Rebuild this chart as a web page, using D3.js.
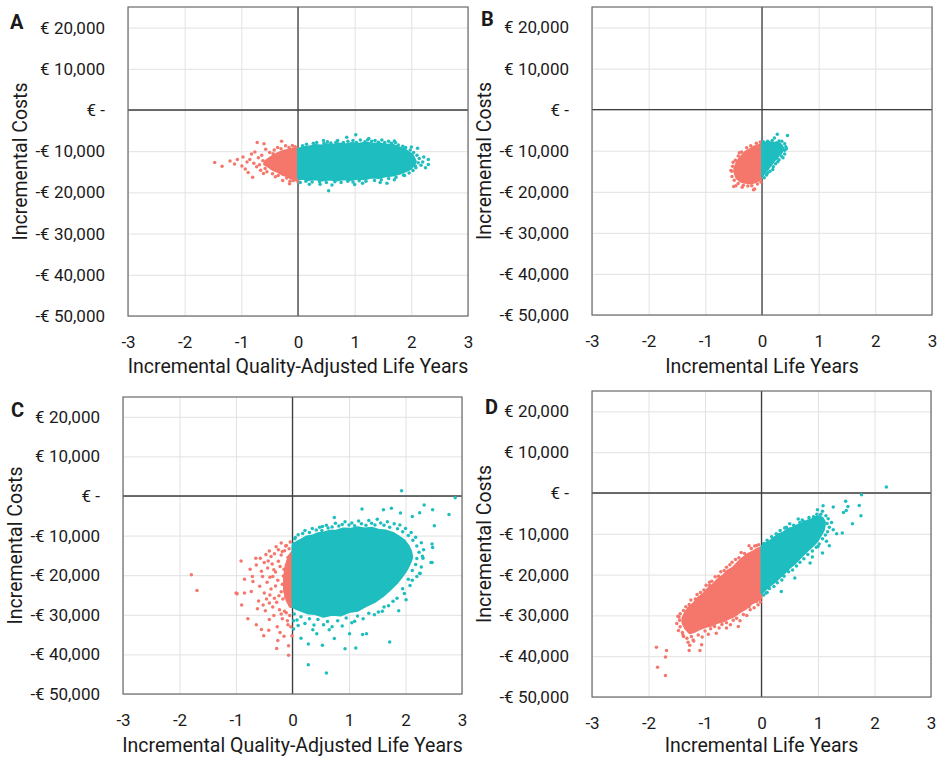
<!DOCTYPE html>
<html>
<head>
<meta charset="utf-8">
<script src="https://cdn.jsdelivr.net/npm/d3@7"></script>
<style>
  body { margin: 0; background: #fff; }
  text { font-family: Roboto, "DejaVu Sans", sans-serif; fill: #1a1a1a; }
</style>
</head>
<body>
<div id="chart"></div>
<script>
"use strict";

// == DATA ==
var costTicks = [20000, 10000, 0, -10000, -20000, -30000, -40000, -50000];
var effectTicks = [-3, -2, -1, 0, 1, 2, 3];
var panelLetters = ["A", "B", "C", "D"];
var xTitles = ["Incremental Quality-Adjusted Life Years", "Incremental Life Years",
               "Incremental Quality-Adjusted Life Years", "Incremental Life Years"];
var yTitle = "Incremental Costs";

// dense part of each cloud (outline) and the loose points around it: [effect, cost]
var aRedCore = [[-0.58,-12400],[-0.5,-11600],[-0.42,-10900],[-0.35,-10400],[-0.25,-9900],[-0.15,-9600],[-0.08,-9300],[0,-9200],[0,-16800],[-0.06,-16500],[-0.12,-16700],[-0.2,-16000],[-0.28,-15700],[-0.36,-15000],[-0.45,-14500],[-0.52,-13800],[-0.6,-13200]];
var aRedPts = [[-1.47,-12750],[-1.34,-13650],[-1.2,-12400],[-1.07,-12000],[-0.97,-11400],[-0.99,-13600],[-0.9,-12600],[-0.82,-10700],[-0.8,-16300],[-0.73,-13800],[-0.72,-7900],[-0.6,-8200],[-0.64,-11000],[-0.61,-15400],[-0.55,-15000],[-0.29,-7560],[-0.27,-17100],[-0.15,-17900],[0,-17500],[-0.44,-10600],[-0.49,-13000],
  [-0.85,-12000],[-0.78,-12900],[-0.7,-11600],[-0.68,-13300],[-0.62,-12300],[-0.58,-14200],[-0.66,-14600],[-0.5,-10300],[-0.42,-9700],[-0.36,-9100],[-0.22,-8700],[-0.1,-8600],[-0.05,-8900],[-0.35,-15900],[-0.2,-16500],[-0.08,-17100],[-0.45,-15500],[-0.93,-14300],[-0.76,-10200],[-1.12,-13100],[-0.88,-15200],[-0.57,-9500],[-0.4,-16200],[-0.3,-9400],[-0.16,-9100],[-0.03,-16900],[-0.14,-17300]];
var aTealCore = [[0,-9400],[0.12,-9000],[0.22,-8800],[0.3,-8500],[0.42,-8600],[0.5,-8300],[0.62,-8400],[0.72,-8100],[0.85,-8300],[0.95,-8000],[1.08,-8200],[1.2,-7900],[1.32,-8200],[1.45,-8100],[1.55,-8400],[1.68,-8500],[1.78,-9000],[1.88,-9500],[1.95,-10200],[2.02,-10800],[2.05,-11600],[2.08,-12500],[2.05,-13300],[2.0,-14200],[1.9,-14900],[1.8,-15400],[1.68,-15900],[1.55,-16100],[1.42,-16500],[1.3,-16400],[1.18,-16800],[1.05,-16700],[0.92,-17000],[0.8,-16800],[0.68,-17100],[0.55,-16900],[0.42,-17100],[0.3,-16800],[0.18,-17000],[0.08,-16700],[0,-16900]];
var aTealPts = [[0.86,-6600],[1.02,-6000],[0.54,-19600],[0.39,-18000],[1.14,-17800],[1.57,-17800],[2.11,-9300],[2.2,-12600],[2.3,-12000],[2.3,-13200],[1.88,-15900],[2.07,-13600],
  [0.08,-8700],[0.15,-8300],[0.27,-8100],[0.33,-7900],[0.46,-8100],[0.52,-7700],[0.58,-8000],[0.67,-7800],[0.7,-7400],[0.8,-7900],[0.88,-7600],[0.97,-7400],[1.03,-7900],[1.1,-7300],[1.18,-7700],[1.23,-7200],[1.3,-7600],[1.36,-7400],[1.42,-7800],[1.48,-7300],[1.53,-7900],[1.6,-7600],[1.65,-8100],[1.72,-7900],[1.77,-8500],[1.85,-8800],[1.9,-9100],[1.98,-9700],[2.04,-10300],[2.1,-11000],[2.14,-11800],[2.12,-12800],[2.17,-13400],[2.08,-14000],[2.03,-14700],[1.96,-15300],[1.86,-15800],[1.73,-16300],[1.6,-16600],[1.47,-16900],[1.35,-17100],[1.2,-17300],[1.08,-17200],[0.97,-17500],[0.88,-17300],[0.76,-17600],[0.65,-17400],[0.5,-17600],[0.38,-17400],[0.25,-17500],[0.14,-17300],[0.04,-17600],
  [0.6,-18200],[1.0,-18100],[1.45,-17600],[0.2,-18000],[1.7,-16900],[0.45,-7400],[1.25,-6900],[1.7,-7500],[2.0,-9000],[2.22,-11400],[2.25,-14000]];

var bRedCore = [[0,-8300],[-0.08,-8700],[-0.15,-9000],[-0.22,-9700],[-0.3,-10300],[-0.36,-11200],[-0.42,-12200],[-0.46,-13300],[-0.49,-14400],[-0.48,-15600],[-0.45,-16700],[-0.38,-17500],[-0.3,-17800],[-0.2,-18000],[-0.12,-17700],[-0.05,-17200],[0,-16600]];
var bRedPts = [[-0.5,-18700],[-0.46,-18500],[-0.35,-18900],[-0.15,-19500],[-0.13,-19300],[-0.53,-15000],[-0.52,-13800],[-0.47,-12300],[-0.42,-11300],[-0.36,-10300],[-0.27,-9300],[-0.2,-8800],[-0.1,-8200],[-0.03,-7900],[-0.53,-16300],[-0.49,-17200],[-0.42,-18000],[-0.33,-18400],[-0.25,-18600],[-0.18,-18500],[-0.08,-18100],[-0.02,-17600],[-0.4,-10500],[-0.51,-12800],[-0.55,-14800]];
var bTealCore = [[0,-8300],[0.06,-8000],[0.13,-7900],[0.2,-8100],[0.26,-7900],[0.32,-8300],[0.36,-8900],[0.38,-9600],[0.35,-10400],[0.3,-11000],[0.27,-11800],[0.22,-12400],[0.17,-13300],[0.12,-14200],[0.07,-15000],[0.03,-15800],[0,-16300]];
var bTealPts = [[0.27,-6000],[0.22,-6900],[0.45,-6300],[0.4,-9900],[0.19,-14600],[0.08,-15900],[0.04,-16600],[0.14,-15000],[0.24,-13200],[0.3,-12200],[0.34,-11300],[0.4,-10800],[0.42,-9000],[0.4,-8300],[0.3,-7600],[0.18,-7500],[0.1,-7700],[0.35,-7700],[0.1,-15400],[0.2,-13900],[0.28,-12700],[0.37,-11700],[0.43,-9500],[0.02,-7800]];

var cRedCore = [[0,-14000],[-0.06,-15000],[-0.12,-17500],[-0.15,-20500],[-0.15,-24000],[-0.1,-26500],[-0.04,-28000],[0,-28000]];
var cRedPts = [[-1.79,-19900],[-1.69,-23850],[-0.98,-24700],[-0.91,-16400],[-0.65,-15700],[-0.57,-15700],[-0.41,-13900],[-0.29,-12800],[-0.2,-11900],[-0.11,-12500],[-0.04,-11600],[-0.5,-16800],[-0.64,-17400],[-0.44,-18200],[-0.71,-20300],[-0.35,-20300],[-0.2,-14900],[-0.25,-16500],[-0.85,-24500],[-1,-24500],[-0.79,-31000],[-0.64,-32500],[-0.55,-33700],[-0.51,-35300],[-0.42,-33900],[-0.28,-38500],[-0.07,-37800],[-0.07,-40200],[-0.01,-35300],[-0.41,-31200],[-0.73,-24100],[-0.5,-24500],[-0.58,-22800],[-0.7,-21600],[-0.41,-27000],[-0.23,-28700],[-0.08,-32500],[-0.11,-29500],[-0.32,-25800],
  [-0.15,-18500],[-0.3,-19200],[-0.45,-21800],[-0.38,-23500],[-0.18,-22300],[-0.28,-26800],[-0.12,-25500],[-0.05,-27500],[-0.6,-26500],[-0.48,-29000],[-0.33,-30200],[-0.18,-31000],[-0.36,-17200],[-0.55,-19000],[-0.85,-21000],[-0.62,-28500],[-0.9,-27500],[-0.22,-34500],[-0.14,-13800],[-0.08,-15500],[-0.38,-15300],[-0.75,-18500],[-0.26,-36500],[-0.46,-26000],[-0.16,-20200],[-0.1,-23800],
  [-0.18,-14000],[-0.22,-17800],[-0.26,-21300],[-0.2,-24200],[-0.24,-25200],[-0.17,-26000],[-0.2,-29800],[-0.14,-29100],[-0.05,-30200],[-0.09,-31500],[-0.03,-33000],[-0.3,-22700],[-0.33,-18600],[-0.4,-20500],[-0.35,-28000],[-0.27,-33000],[-0.15,-35400],[-0.12,-12600],[-0.06,-13300],[-0.25,-13600],[-0.32,-14600],[-0.47,-14800],[-0.43,-16400],[-0.53,-20300],[-0.4,-25000],[-0.52,-27500]];
var cTealCore = [[0,-12500],[0.08,-11500],[0.15,-11000],[0.25,-10200],[0.35,-10000],[0.45,-9400],[0.55,-9200],[0.65,-8800],[0.78,-8700],[0.9,-8200],[1.02,-8300],[1.15,-7900],[1.28,-8200],[1.4,-8000],[1.52,-8500],[1.65,-8700],[1.78,-9300],[1.88,-10200],[1.98,-11200],[2.05,-12500],[2.1,-14000],[2.12,-15500],[2.08,-17000],[2.03,-18500],[1.95,-20200],[1.85,-22000],[1.72,-23800],[1.6,-25300],[1.45,-26800],[1.3,-27800],[1.15,-29000],[1.0,-29300],[0.85,-30200],[0.7,-30000],[0.55,-30500],[0.4,-29800],[0.28,-29700],[0.15,-29000],[0.05,-28400],[0,-28000]];
var cTealPts = [[1.93,1340],[2.88,-420],[2.77,-4700],[2.48,-3450],[2.33,-2270],[1.75,-3100],[1.61,-3450],[1.23,-3270],[0.74,-5460],[0.53,-7700],[1.91,-4280],[2.12,-5200],[2.25,-4200],[2.51,-7500],[2.47,-12100],[2.48,-13000],[2.47,-16800],[2.31,-15700],[2.25,-19500],
  [2.45,-16800],[2.26,-19600],[2.12,-21300],[2.01,-26200],[1.88,-29000],[1.72,-36900],[1.59,-29100],[1.31,-34800],[1.12,-38400],[0.93,-38600],[0.6,-44700],[0.28,-42600],[0.28,-37400],[0.53,-37700],[0.15,-35900],[0.43,-34800],[0.74,-36000],[1.01,-34800],[1.24,-35000],[0.02,-33600],[0.1,-32700],[0.36,-33750],[0.65,-33750],[1.1,-31650],
  [0.05,-10500],[0.1,-9800],[0.18,-9500],[0.22,-8700],[0.3,-9200],[0.35,-8200],[0.42,-8600],[0.48,-7900],[0.52,-8700],[0.6,-7400],[0.63,-8100],[0.7,-7800],[0.76,-6900],[0.82,-7600],[0.88,-7200],[0.93,-6500],[1.0,-7300],[1.05,-6800],[1.1,-7500],[1.17,-6300],[1.22,-7000],[1.3,-7400],[1.35,-6200],[1.4,-6900],[1.46,-7300],[1.5,-5900],[1.56,-6800],[1.62,-7400],[1.68,-6500],[1.72,-7900],[1.8,-7000],[1.86,-8300],[1.9,-7300],[1.95,-9000],[2.0,-8200],[2.05,-10000],[2.1,-9200],[2.13,-11200],[2.18,-10400],[2.2,-12600],[2.28,-11800],[2.24,-14200],[2.32,-13600],[2.2,-15800],[2.3,-15200],[2.18,-17300],[2.28,-17900],[2.12,-18800],[2.2,-20300],[2.05,-21000],[2.08,-22600],[1.95,-23400],[1.98,-24600],[1.85,-25800],[1.78,-26600],[1.7,-27700],[1.62,-28000],[1.52,-29300],[1.45,-30000],[1.35,-29600],[1.25,-31000],[1.15,-30300],[1.05,-32000],[0.95,-30800],[0.88,-32800],[0.8,-31500],[0.7,-33000],[0.62,-31700],[0.55,-32500],[0.45,-31200],[0.38,-32600],[0.3,-31000],[0.22,-32200],[0.15,-30500],[0.08,-31300],[0.03,-29800],[0.02,-31500],[0.04,-10800],[0.02,-12000]];

var dRedCore = [[0,-13300],[-0.08,-13700],[-0.15,-14300],[-0.25,-15000],[-0.33,-15900],[-0.42,-17000],[-0.5,-18200],[-0.6,-19000],[-0.68,-20200],[-0.78,-21200],[-0.86,-22400],[-0.95,-23400],[-1.03,-24700],[-1.12,-25600],[-1.21,-27100],[-1.3,-28200],[-1.36,-29500],[-1.4,-30600],[-1.4,-31800],[-1.35,-33200],[-1.27,-34400],[-1.18,-34000],[-1.08,-33300],[-0.98,-32800],[-0.88,-32500],[-0.78,-31800],[-0.68,-31500],[-0.58,-30800],[-0.48,-30200],[-0.38,-29200],[-0.28,-28400],[-0.18,-27200],[-0.08,-26500],[0,-25800]];
var dRedPts = [[-1.86,-37800],[-1.68,-38600],[-1.7,-40200],[-1.84,-42700],[-1.7,-44700],[-1.28,-38600],[-1.09,-38600],[-1.06,-37200],[-1.27,-37300],[-1.46,-30400],[-1.39,-34800],[-0.92,-21900],[-0.09,-12850],[-0.41,-32700],[-0.62,-33100],[-0.8,-34350],[-0.22,-27800],[-0.09,-26600],[-1.21,-36000],
  [-0.05,-12700],[-0.12,-13000],[-0.18,-13600],[-0.22,-12900],[-0.3,-14800],[-0.36,-14600],[-0.4,-15900],[-0.46,-16300],[-0.52,-17000],[-0.56,-17600],[-0.62,-18200],[-0.66,-19000],[-0.72,-19300],[-0.76,-20400],[-0.82,-20500],[-0.88,-21600],[-0.92,-22700],[-0.98,-22600],[-1.02,-23800],[-1.08,-24400],[-1.14,-24900],[-1.17,-26000],[-1.25,-26200],[-1.28,-27300],[-1.34,-27900],[-1.38,-28800],[-1.44,-29600],[-1.48,-30200],[-1.45,-31200],[-1.5,-32000],[-1.44,-32800],[-1.47,-33700],[-1.4,-34200],[-1.38,-35200],[-1.32,-35600],[-1.3,-36600],[-1.24,-35200],[-1.2,-36300],[-1.12,-34800],[-1.05,-35300],[-1.0,-33800],[-0.94,-34600],[-0.9,-33300],[-0.83,-32700],[-0.75,-33100],[-0.7,-32200],[-0.62,-31800],[-0.55,-32300],[-0.5,-31200],[-0.44,-30700],[-0.38,-31300],[-0.32,-29800],[-0.26,-30000],[-0.2,-28600],[-0.13,-28100],[-0.06,-27400],[-0.02,-26700]];
var dTealCore = [[0,-13000],[0.08,-12300],[0.15,-11700],[0.22,-11000],[0.3,-10100],[0.38,-9700],[0.46,-8900],[0.55,-8500],[0.63,-7900],[0.72,-7500],[0.8,-6800],[0.88,-6500],[0.95,-5900],[1.02,-5700],[1.08,-6100],[1.12,-7000],[1.12,-8000],[1.1,-9200],[1.05,-10400],[1.0,-11600],[0.93,-12700],[0.85,-13700],[0.77,-14800],[0.68,-16000],[0.6,-17200],[0.5,-18300],[0.42,-19500],[0.33,-20600],[0.25,-21700],[0.16,-22600],[0.08,-23600],[0,-24600]];
var dTealPts = [[2.21,1470],[1.77,-420],[1.73,-3040],[1.76,-5570],[1.49,-2050],[1.53,-3280],[1.5,-4260],[1.45,-4750],[1.27,-3440],[1.09,-3110],[0.99,-4090],[1.61,-7530],[1.43,-9810],[1.33,-9970],[1.2,-12930],[1.08,-14720],[1.0,-13100],[0.86,-17170],[0.59,-20850],[0.35,-24140],[0.08,-24540],[0.65,-6380],[0.5,-7530],[0.41,-8590],[0.74,-6950],
  [0.04,-12400],[0.1,-11600],[0.18,-10700],[0.2,-11400],[0.26,-10000],[0.33,-9200],[0.37,-10200],[0.44,-8400],[0.5,-8900],[0.57,-7900],[0.6,-8700],[0.68,-7200],[0.72,-6600],[0.78,-7300],[0.84,-6000],[0.92,-5800],[0.98,-5200],[1.05,-5200],[1.08,-4500],[1.14,-5600],[1.18,-6300],[1.16,-7500],[1.24,-7200],[1.2,-8400],[1.17,-9500],[1.27,-9000],[1.13,-10300],[1.08,-11200],[1.15,-11800],[1.02,-12500],[0.97,-13300],[0.9,-14200],[0.82,-15100],[0.9,-15700],[0.75,-16100],[0.68,-17000],[0.62,-17900],[0.55,-18900],[0.48,-19300],[0.4,-20400],[0.36,-21300],[0.28,-22000],[0.22,-22900],[0.14,-23400],[0.1,-24400],[0.04,-25000],[0.02,-24000]];

// == LAYOUT ==
var RED = "#f5776c", TEAL = "#1ebdbf";
var layout = [
  { left: 128, right: 468, top: 7,   bottom: 316, lx: 10,  ly: 29,  ty: 366 },
  { left: 592, right: 932, top: 7,   bottom: 315, lx: 481, ly: 26,  ty: 366 },
  { left: 123, right: 462, top: 397, bottom: 694, lx: 11,  ly: 417, ty: 745 },
  { left: 592, right: 931, top: 391, bottom: 697, lx: 485, ly: 414, ty: 745 }
];
var panels = [
  { redCore: aRedCore, redPts: aRedPts, tealCore: aTealCore, tealPts: aTealPts },
  { redCore: bRedCore, redPts: bRedPts, tealCore: bTealCore, tealPts: bTealPts },
  { redCore: cRedCore, redPts: cRedPts, tealCore: cTealCore, tealPts: cTealPts },
  { redCore: dRedCore, redPts: dRedPts, tealCore: dTealCore, tealPts: dTealPts }
];

var svg = d3.select("#chart")
  .append("svg")
  .attr("width", 942)
  .attr("height", 758);

function costFormat(d) {
  if (d === 0) return "€ -";
  return (d < 0 ? "-" : "") + "€ " + d3.format(",")(Math.abs(d));
}
function effectFormat(d) {
  return (d < 0 ? "-" : "") + Math.abs(d);
}

panels.forEach(function (p, i) {
  var L = layout[i];
  var x = d3.scaleLinear().domain([-3, 3]).range([L.left, L.right]);
  var y = d3.scaleLinear().domain([-50000, 25000]).range([L.bottom, L.top]);
  var g = svg.append("g");

  // == GRID ==
  g.append("g")
    .attr("transform", "translate(0," + L.bottom + ")")
    .call(d3.axisBottom(x).tickValues(effectTicks).tickSize(-(L.bottom - L.top)).tickFormat(""))
    .call(function (s) { s.select(".domain").remove(); })
    .selectAll("line").attr("stroke", "#e2e2e2");
  g.append("g")
    .attr("transform", "translate(" + L.left + ",0)")
    .call(d3.axisLeft(y).tickValues(costTicks).tickSize(-(L.right - L.left)).tickFormat(""))
    .call(function (s) { s.select(".domain").remove(); })
    .selectAll("line").attr("stroke", "#e2e2e2");

  // zero lines
  g.append("line")
    .attr("x1", L.left).attr("x2", L.right)
    .attr("y1", y(0)).attr("y2", y(0))
    .attr("stroke", "#3d3d3d").attr("stroke-width", 1.3);
  g.append("line")
    .attr("x1", x(0)).attr("x2", x(0))
    .attr("y1", L.top).attr("y2", L.bottom)
    .attr("stroke", "#3d3d3d").attr("stroke-width", 1.3);

  // frame
  g.append("rect")
    .attr("x", L.left).attr("y", L.top)
    .attr("width", L.right - L.left).attr("height", L.bottom - L.top)
    .attr("fill", "none").attr("stroke", "#6a6a6a").attr("stroke-width", 1.2);

  // == AXES ==
  var ya = g.append("g")
    .attr("transform", "translate(" + L.left + ",0)")
    .call(d3.axisLeft(y).tickValues(costTicks).tickSize(0).tickPadding(23).tickFormat(costFormat));
  ya.select(".domain").remove();
  ya.selectAll("text").style("font-size", "17px").attr("fill", "#1a1a1a");

  var xa = g.append("g")
    .attr("transform", "translate(0," + L.bottom + ")")
    .call(d3.axisBottom(x).tickValues(effectTicks).tickSize(0).tickPadding(20).tickFormat(effectFormat));
  xa.select(".domain").remove();
  xa.selectAll("text").style("font-size", "17px").attr("fill", "#1a1a1a");

  g.append("text")
    .attr("x", (L.left + L.right) / 2)
    .attr("y", L.ty)
    .attr("dy", "0.35em")
    .attr("text-anchor", "middle")
    .style("font-size", "19.5px")
    .text(xTitles[i]);

  g.append("text")
    .attr("transform", "translate(" + (L.left - 108) + "," + ((L.top + L.bottom) / 2) + ") rotate(-90)")
    .attr("dy", "0.35em")
    .attr("text-anchor", "middle")
    .style("font-size", "19.5px")
    .text(yTitle);

  g.append("text")
    .attr("x", L.lx).attr("y", L.ly)
    .style("font-size", "20px")
    .style("font-weight", "bold")
    .text(panelLetters[i]);

  // == POINTS ==
  var line = d3.line()
    .x(function (d) { return x(d[0]); })
    .y(function (d) { return y(d[1]); });

  [[p.redCore, RED], [p.tealCore, TEAL]].forEach(function (c) {
    g.append("path")
      .datum(c[0])
      .attr("d", function (d) { return line(d) + "Z"; })
      .attr("fill", c[1])
      .attr("stroke", c[1])
      .attr("stroke-width", 2)
      .attr("stroke-linejoin", "round");
  });

  g.selectAll("circle.red")
    .data(p.redPts)
    .enter()
    .append("circle")
    .attr("class", "red")
    .attr("cx", function (d) { return x(d[0]); })
    .attr("cy", function (d) { return y(d[1]); })
    .attr("r", 1.75)
    .attr("fill", RED);

  g.selectAll("circle.teal")
    .data(p.tealPts)
    .enter()
    .append("circle")
    .attr("class", "teal")
    .attr("cx", function (d) { return x(d[0]); })
    .attr("cy", function (d) { return y(d[1]); })
    .attr("r", 1.75)
    .attr("fill", TEAL);
});
</script>
</body>
</html>
